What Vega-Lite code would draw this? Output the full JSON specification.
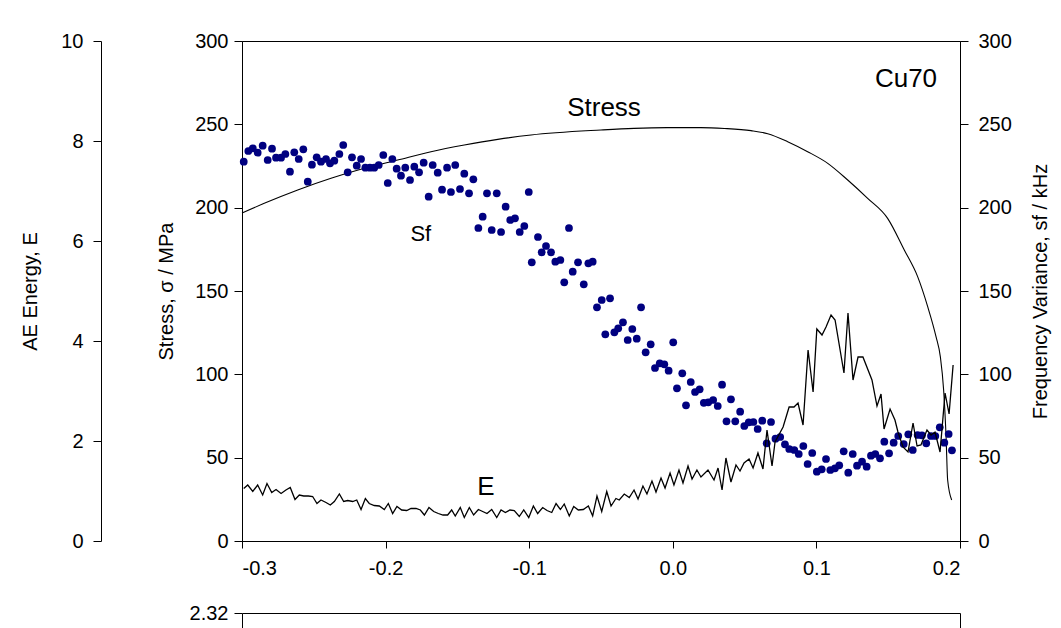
{
  "$schema": "https://vega.github.io/schema/vega-lite/v6.json",
  "background": "white",
  "padding": {"left": 20, "top": 30, "right": 5, "bottom": 0},
  "spacing": 24,
  "config": {
    "font": "Liberation Sans",
    "view": {"stroke": null},
    "axis": {
      "labelFont": "Liberation Sans", "titleFont": "Liberation Sans",
      "labelColor": "black", "titleColor": "black", "domainColor": "black", "tickColor": "black",
      "labelFontSize": 20, "titleFontSize": 20, "titleFontWeight": "normal",
      "grid": false, "tickSize": 8, "domainWidth": 1, "tickWidth": 1
    }
  },
  "datasets": {
    "stress": [
      {"x": -0.3, "stress": 196.8}, {"x": -0.2845, "stress": 202.6}, {"x": -0.2612, "stress": 210.6},
      {"x": -0.238, "stress": 217.6}, {"x": -0.2148, "stress": 223.6}, {"x": -0.1916, "stress": 228.6},
      {"x": -0.1684, "stress": 233.6}, {"x": -0.1452, "stress": 237.6}, {"x": -0.1219, "stress": 241.0},
      {"x": -0.0987, "stress": 243.6}, {"x": -0.05, "stress": 246.6}, {"x": -0.027, "stress": 247.6},
      {"x": -0.004, "stress": 248.0}, {"x": 0.0196, "stress": 248.0}, {"x": 0.036, "stress": 247.5},
      {"x": 0.0545, "stress": 246.2}, {"x": 0.0661, "stress": 244.4}, {"x": 0.08, "stress": 239.6},
      {"x": 0.0939, "stress": 233.6}, {"x": 0.1079, "stress": 226.6}, {"x": 0.1218, "stress": 216.6},
      {"x": 0.1357, "stress": 205.6}, {"x": 0.1496, "stress": 193.6}, {"x": 0.1612, "stress": 174.6},
      {"x": 0.1705, "stress": 158.6}, {"x": 0.1775, "stress": 140.6}, {"x": 0.1833, "stress": 122.6},
      {"x": 0.1863, "stress": 110.6}, {"x": 0.1886, "stress": 90.6}, {"x": 0.1903, "stress": 62.6},
      {"x": 0.1914, "stress": 36.6}, {"x": 0.1942, "stress": 24.6}
    ],
    "sf": [
      {"x": -0.2988, "sf": 227.6}, {"x": -0.2956, "sf": 234.0}, {"x": -0.2925, "sf": 235.6}, {"x": -0.2891, "sf": 233.0},
      {"x": -0.2856, "sf": 237.2}, {"x": -0.2821, "sf": 228.6}, {"x": -0.2791, "sf": 235.4}, {"x": -0.2763, "sf": 230.0},
      {"x": -0.2728, "sf": 230.0}, {"x": -0.2698, "sf": 232.2}, {"x": -0.2666, "sf": 221.6}, {"x": -0.2636, "sf": 233.2},
      {"x": -0.2605, "sf": 229.2}, {"x": -0.2573, "sf": 235.0}, {"x": -0.2542, "sf": 215.6}, {"x": -0.2513, "sf": 225.8},
      {"x": -0.248, "sf": 230.2}, {"x": -0.245, "sf": 227.6}, {"x": -0.2415, "sf": 229.2}, {"x": -0.2387, "sf": 226.6},
      {"x": -0.2357, "sf": 228.2}, {"x": -0.2322, "sf": 232.2}, {"x": -0.2295, "sf": 237.6}, {"x": -0.2264, "sf": 221.2},
      {"x": -0.2234, "sf": 230.2}, {"x": -0.2201, "sf": 225.2}, {"x": -0.2171, "sf": 229.2}, {"x": -0.2141, "sf": 224.0},
      {"x": -0.2109, "sf": 224.0}, {"x": -0.2079, "sf": 224.0}, {"x": -0.2048, "sf": 225.6}, {"x": -0.2016, "sf": 231.6},
      {"x": -0.1985, "sf": 214.8}, {"x": -0.1953, "sf": 229.2}, {"x": -0.1923, "sf": 223.4}, {"x": -0.1893, "sf": 219.2},
      {"x": -0.1863, "sf": 224.0}, {"x": -0.183, "sf": 216.6}, {"x": -0.18, "sf": 224.6}, {"x": -0.1767, "sf": 221.2},
      {"x": -0.1735, "sf": 227.0}, {"x": -0.17, "sf": 206.6}, {"x": -0.1672, "sf": 225.6}, {"x": -0.1637, "sf": 221.0},
      {"x": -0.1607, "sf": 210.8}, {"x": -0.1572, "sf": 224.0}, {"x": -0.1545, "sf": 209.4}, {"x": -0.1515, "sf": 225.6},
      {"x": -0.1482, "sf": 211.2}, {"x": -0.1452, "sf": 220.4}, {"x": -0.1419, "sf": 208.6}, {"x": -0.1389, "sf": 217.0},
      {"x": -0.1354, "sf": 187.8}, {"x": -0.1324, "sf": 194.6}, {"x": -0.1294, "sf": 208.6}, {"x": -0.1261, "sf": 186.6},
      {"x": -0.1226, "sf": 208.6}, {"x": -0.1196, "sf": 185.4}, {"x": -0.1164, "sf": 200.6}, {"x": -0.1132, "sf": 192.6},
      {"x": -0.1099, "sf": 193.6}, {"x": -0.1066, "sf": 185.4}, {"x": -0.1034, "sf": 189.0}, {"x": -0.1003, "sf": 209.4},
      {"x": -0.0982, "sf": 167.2}, {"x": -0.0939, "sf": 182.4}, {"x": -0.0913, "sf": 173.2}, {"x": -0.0883, "sf": 177.0},
      {"x": -0.0848, "sf": 173.2}, {"x": -0.0818, "sf": 167.6}, {"x": -0.0783, "sf": 168.6}, {"x": -0.0756, "sf": 155.2},
      {"x": -0.0723, "sf": 187.8}, {"x": -0.0697, "sf": 161.6}, {"x": -0.066, "sf": 167.2}, {"x": -0.062, "sf": 154.0},
      {"x": -0.0588, "sf": 166.6}, {"x": -0.0558, "sf": 167.6}, {"x": -0.0528, "sf": 140.2}, {"x": -0.0495, "sf": 144.6},
      {"x": -0.047, "sf": 124.0}, {"x": -0.0437, "sf": 145.6}, {"x": -0.0407, "sf": 125.2}, {"x": -0.038, "sf": 127.6},
      {"x": -0.0347, "sf": 131.2}, {"x": -0.0314, "sf": 120.6}, {"x": -0.0282, "sf": 127.2}, {"x": -0.0251, "sf": 121.4},
      {"x": -0.0221, "sf": 140.2}, {"x": -0.0189, "sf": 113.2}, {"x": -0.0154, "sf": 118.0}, {"x": -0.0124, "sf": 103.8},
      {"x": -0.0091, "sf": 106.6}, {"x": -0.0059, "sf": 106.0}, {"x": -0.0029, "sf": 102.2}, {"x": 0.0003, "sf": 119.2},
      {"x": 0.0029, "sf": 91.6}, {"x": 0.0066, "sf": 100.6}, {"x": 0.0092, "sf": 81.4}, {"x": 0.0125, "sf": 95.4},
      {"x": 0.0155, "sf": 89.4}, {"x": 0.0187, "sf": 91.0}, {"x": 0.0216, "sf": 82.9}, {"x": 0.0247, "sf": 83.2},
      {"x": 0.0281, "sf": 84.6}, {"x": 0.0313, "sf": 81.0}, {"x": 0.0343, "sf": 93.8}, {"x": 0.0374, "sf": 71.8},
      {"x": 0.0405, "sf": 85.0}, {"x": 0.0435, "sf": 71.8}, {"x": 0.0469, "sf": 77.6}, {"x": 0.0498, "sf": 69.0},
      {"x": 0.0529, "sf": 71.2}, {"x": 0.0561, "sf": 71.4}, {"x": 0.0591, "sf": 67.2}, {"x": 0.0623, "sf": 72.2},
      {"x": 0.0654, "sf": 58.6}, {"x": 0.0684, "sf": 71.4}, {"x": 0.0715, "sf": 61.4}, {"x": 0.0748, "sf": 62.4},
      {"x": 0.0781, "sf": 58.0}, {"x": 0.0811, "sf": 55.2}, {"x": 0.0846, "sf": 54.6}, {"x": 0.0877, "sf": 52.2},
      {"x": 0.0909, "sf": 57.0}, {"x": 0.0939, "sf": 46.2}, {"x": 0.0971, "sf": 52.8}, {"x": 0.1003, "sf": 41.6},
      {"x": 0.1037, "sf": 43.0}, {"x": 0.1067, "sf": 49.2}, {"x": 0.1097, "sf": 42.6}, {"x": 0.1129, "sf": 43.6},
      {"x": 0.1159, "sf": 45.4}, {"x": 0.119, "sf": 53.8}, {"x": 0.1222, "sf": 41.0}, {"x": 0.1253, "sf": 52.2},
      {"x": 0.1283, "sf": 45.2}, {"x": 0.1318, "sf": 47.6}, {"x": 0.135, "sf": 44.6}, {"x": 0.138, "sf": 51.2},
      {"x": 0.141, "sf": 52.2}, {"x": 0.1443, "sf": 49.6}, {"x": 0.1473, "sf": 59.6}, {"x": 0.1506, "sf": 52.6},
      {"x": 0.1538, "sf": 59.0}, {"x": 0.157, "sf": 63.0}, {"x": 0.1608, "sf": 58.2}, {"x": 0.164, "sf": 64.0},
      {"x": 0.1671, "sf": 54.6}, {"x": 0.1705, "sf": 63.6}, {"x": 0.1735, "sf": 63.4}, {"x": 0.1765, "sf": 58.6},
      {"x": 0.1798, "sf": 63.0}, {"x": 0.1828, "sf": 63.0}, {"x": 0.1859, "sf": 68.2}, {"x": 0.1891, "sf": 59.0},
      {"x": 0.1921, "sf": 64.2}, {"x": 0.1944, "sf": 54.4}
    ],
    "energy": [
      {"x": -0.2988, "E": 1.05}, {"x": -0.296, "E": 1.12}, {"x": -0.2925, "E": 0.99}, {"x": -0.2891, "E": 1.12},
      {"x": -0.2856, "E": 0.92}, {"x": -0.2826, "E": 1.15}, {"x": -0.2793, "E": 0.97}, {"x": -0.2763, "E": 1.03},
      {"x": -0.2728, "E": 0.95}, {"x": -0.2694, "E": 1.02}, {"x": -0.2664, "E": 1.07}, {"x": -0.2631, "E": 0.83},
      {"x": -0.2601, "E": 0.92}, {"x": -0.257, "E": 0.90}, {"x": -0.2538, "E": 0.90}, {"x": -0.2508, "E": 0.89},
      {"x": -0.2478, "E": 0.75}, {"x": -0.245, "E": 0.82}, {"x": -0.2415, "E": 0.77}, {"x": -0.2385, "E": 0.72},
      {"x": -0.2357, "E": 0.79}, {"x": -0.2322, "E": 0.94}, {"x": -0.2292, "E": 0.79}, {"x": -0.2264, "E": 0.81},
      {"x": -0.2229, "E": 0.79}, {"x": -0.2201, "E": 0.82}, {"x": -0.2171, "E": 0.63}, {"x": -0.2141, "E": 0.85},
      {"x": -0.2114, "E": 0.75}, {"x": -0.2079, "E": 0.71}, {"x": -0.2044, "E": 0.70}, {"x": -0.2009, "E": 0.63},
      {"x": -0.1981, "E": 0.75}, {"x": -0.1951, "E": 0.55}, {"x": -0.1921, "E": 0.69}, {"x": -0.1888, "E": 0.62},
      {"x": -0.1853, "E": 0.61}, {"x": -0.1823, "E": 0.65}, {"x": -0.1788, "E": 0.65}, {"x": -0.1758, "E": 0.62},
      {"x": -0.173, "E": 0.52}, {"x": -0.1698, "E": 0.67}, {"x": -0.1665, "E": 0.59}, {"x": -0.1633, "E": 0.55},
      {"x": -0.16, "E": 0.52}, {"x": -0.1568, "E": 0.52}, {"x": -0.154, "E": 0.62}, {"x": -0.1515, "E": 0.50},
      {"x": -0.148, "E": 0.67}, {"x": -0.1452, "E": 0.47}, {"x": -0.1417, "E": 0.67}, {"x": -0.1387, "E": 0.52},
      {"x": -0.1354, "E": 0.63}, {"x": -0.1324, "E": 0.59}, {"x": -0.1294, "E": 0.55}, {"x": -0.1261, "E": 0.63},
      {"x": -0.1226, "E": 0.47}, {"x": -0.1196, "E": 0.62}, {"x": -0.1166, "E": 0.57}, {"x": -0.1134, "E": 0.62},
      {"x": -0.1104, "E": 0.61}, {"x": -0.1069, "E": 0.49}, {"x": -0.1038, "E": 0.62}, {"x": -0.1003, "E": 0.47},
      {"x": -0.0971, "E": 0.70}, {"x": -0.0941, "E": 0.55}, {"x": -0.0906, "E": 0.67}, {"x": -0.0876, "E": 0.61},
      {"x": -0.0843, "E": 0.57}, {"x": -0.0813, "E": 0.75}, {"x": -0.0783, "E": 0.63}, {"x": -0.0756, "E": 0.74},
      {"x": -0.0721, "E": 0.50}, {"x": -0.069, "E": 0.69}, {"x": -0.0658, "E": 0.62}, {"x": -0.0623, "E": 0.63},
      {"x": -0.0588, "E": 0.70}, {"x": -0.0558, "E": 0.50}, {"x": -0.0528, "E": 0.90}, {"x": -0.0495, "E": 0.59},
      {"x": -0.046, "E": 0.99}, {"x": -0.043, "E": 0.70}, {"x": -0.0396, "E": 0.85}, {"x": -0.0373, "E": 0.82},
      {"x": -0.0338, "E": 0.94}, {"x": -0.0303, "E": 0.87}, {"x": -0.027, "E": 1.02}, {"x": -0.0242, "E": 0.84},
      {"x": -0.0208, "E": 1.10}, {"x": -0.018, "E": 0.94}, {"x": -0.0145, "E": 1.20}, {"x": -0.0117, "E": 0.98},
      {"x": -0.0082, "E": 1.26}, {"x": -0.0054, "E": 1.06}, {"x": -0.0019, "E": 1.36}, {"x": 0.0008, "E": 1.12},
      {"x": 0.0043, "E": 1.42}, {"x": 0.0071, "E": 1.16}, {"x": 0.0106, "E": 1.50}, {"x": 0.0134, "E": 1.24},
      {"x": 0.0168, "E": 1.42}, {"x": 0.0196, "E": 1.28}, {"x": 0.0245, "E": 1.42}, {"x": 0.0287, "E": 1.22},
      {"x": 0.0315, "E": 1.46}, {"x": 0.0343, "E": 1.02}, {"x": 0.037, "E": 1.66}, {"x": 0.0405, "E": 1.18},
      {"x": 0.044, "E": 1.52}, {"x": 0.0468, "E": 1.40}, {"x": 0.0496, "E": 1.56}, {"x": 0.0531, "E": 1.64},
      {"x": 0.0559, "E": 1.46}, {"x": 0.0593, "E": 1.76}, {"x": 0.0628, "E": 1.44}, {"x": 0.0656, "E": 2.22},
      {"x": 0.0691, "E": 1.50}, {"x": 0.0712, "E": 1.98}, {"x": 0.0768, "E": 2.28}, {"x": 0.081, "E": 2.68},
      {"x": 0.0844, "E": 2.68}, {"x": 0.0872, "E": 2.76}, {"x": 0.0907, "E": 2.32}, {"x": 0.0942, "E": 3.82},
      {"x": 0.0977, "E": 2.98}, {"x": 0.1003, "E": 4.24}, {"x": 0.1039, "E": 4.12}, {"x": 0.1067, "E": 4.28},
      {"x": 0.1102, "E": 4.52}, {"x": 0.113, "E": 4.42}, {"x": 0.1192, "E": 3.36}, {"x": 0.122, "E": 4.56},
      {"x": 0.1255, "E": 3.22}, {"x": 0.129, "E": 3.68}, {"x": 0.1324, "E": 3.68}, {"x": 0.1387, "E": 3.22},
      {"x": 0.1422, "E": 2.70}, {"x": 0.145, "E": 2.94}, {"x": 0.1471, "E": 2.24}, {"x": 0.1513, "E": 2.64},
      {"x": 0.1547, "E": 2.42}, {"x": 0.1568, "E": 2.18}, {"x": 0.1603, "E": 1.88}, {"x": 0.1638, "E": 1.78},
      {"x": 0.1673, "E": 2.36}, {"x": 0.1701, "E": 1.90}, {"x": 0.1728, "E": 1.92}, {"x": 0.177, "E": 2.22},
      {"x": 0.1798, "E": 2.12}, {"x": 0.1826, "E": 2.18}, {"x": 0.1861, "E": 1.78}, {"x": 0.1896, "E": 2.96},
      {"x": 0.1924, "E": 2.54}, {"x": 0.1952, "E": 3.52}
    ],
    "labels": [
      {"x": -0.0479, "y": 259.8, "label": "Stress"},
      {"x": 0.1624, "y": 277.2, "label": "Cu70"},
      {"x": -0.1301, "y": 32.7, "label": "E"}
    ],
    "sflabel": [
      {"x": -0.1755, "y": 184.2, "label": "Sf"}
    ],
    "frame": [
      {"x": -0.3, "v": 2.32},
      {"x": 0.2, "v": 2.2}
    ]
  },
  "vconcat": [
    {
      "width": 718,
      "height": 500,
      "view": {"stroke": "black"},
      "encoding": {
        "x": {
          "field": "x", "type": "quantitative",
          "scale": {"domain": [-0.3, 0.2], "nice": false, "zero": false},
          "axis": {
            "title": null, "values": [-0.3, -0.2, -0.1, 0, 0.1, 0.2], "tickSize": 7, "labelPadding": 10,
            "labelExpr": "datum.value < 0 ? '-' + format(-datum.value, '.1f') : format(datum.value, '.1f')"
          }
        }
      },
      "layer": [
        {
          "data": {"name": "stress"},
          "mark": {"type": "line", "color": "black", "strokeWidth": 1.1, "interpolate": "monotone"},
          "encoding": {
            "y": {
              "field": "stress", "type": "quantitative",
              "scale": {"domain": [0, 300], "nice": false},
              "axis": {"orient": "left", "values": [0, 50, 100, 150, 200, 250, 300], "title": "Stress, σ / MPa", "labelPadding": 6, "titlePadding": 18}
            }
          }
        },
        {
          "data": {"name": "sf"},
          "mark": {"type": "circle", "color": "#000080", "opacity": 1, "size": 60},
          "encoding": {
            "y": {
              "field": "sf", "type": "quantitative",
              "scale": {"domain": [0, 300], "nice": false},
              "axis": {"orient": "right", "values": [0, 50, 100, 150, 200, 250, 300], "title": "Frequency Variance, sf / kHz", "titleAngle": 270, "labelPadding": 10, "titlePadding": 39}
            }
          }
        },
        {
          "data": {"name": "energy"},
          "mark": {"type": "line", "color": "black", "strokeWidth": 1.3},
          "encoding": {
            "y": {
              "field": "E", "type": "quantitative",
              "scale": {"domain": [0, 10], "nice": false},
              "axis": {"orient": "left", "offset": 141, "values": [0, 2, 4, 6, 8, 10], "title": "AE Energy, E", "labelPadding": 10, "titlePadding": 20}
            }
          }
        },
        {
          "data": {"name": "labels"},
          "mark": {"type": "text", "fontSize": 26, "font": "Liberation Sans", "color": "black", "align": "center", "baseline": "middle"},
          "encoding": {
            "y": {"field": "y", "type": "quantitative", "scale": {"domain": [0, 300], "nice": false}, "axis": null},
            "text": {"field": "label"}
          }
        },
        {
          "data": {"name": "sflabel"},
          "mark": {"type": "text", "fontSize": 22, "font": "Liberation Sans", "color": "black", "align": "center", "baseline": "middle"},
          "encoding": {
            "y": {"field": "y", "type": "quantitative", "scale": {"domain": [0, 300], "nice": false}, "axis": null},
            "text": {"field": "label"}
          }
        }
      ],
      "resolve": {"scale": {"y": "independent"}, "axis": {"y": "independent"}}
    },
    {
      "width": 718,
      "height": 16,
      "data": {"name": "frame"},
      "encoding": {
        "x": {
          "field": "x", "type": "quantitative",
          "scale": {"domain": [-0.3, 0.2], "nice": false, "zero": false},
          "axis": {"orient": "top", "labels": false, "ticks": false, "title": null}
        }
      },
      "layer": [
        {
          "mark": {"type": "point", "opacity": 0},
          "encoding": {
            "y": {
              "field": "v", "type": "quantitative",
              "scale": {"domain": [2.2, 2.32], "nice": false, "zero": false},
              "axis": {"orient": "left", "values": [2.32], "format": ".2f", "title": null, "labelPadding": 6}
            }
          }
        },
        {
          "mark": {"type": "point", "opacity": 0},
          "encoding": {
            "y": {
              "field": "v", "type": "quantitative",
              "scale": {"domain": [2.2, 2.32], "nice": false, "zero": false},
              "axis": {"orient": "right", "labels": false, "ticks": false, "title": null}
            }
          }
        }
      ],
      "resolve": {"axis": {"y": "independent"}}
    }
  ]
}
